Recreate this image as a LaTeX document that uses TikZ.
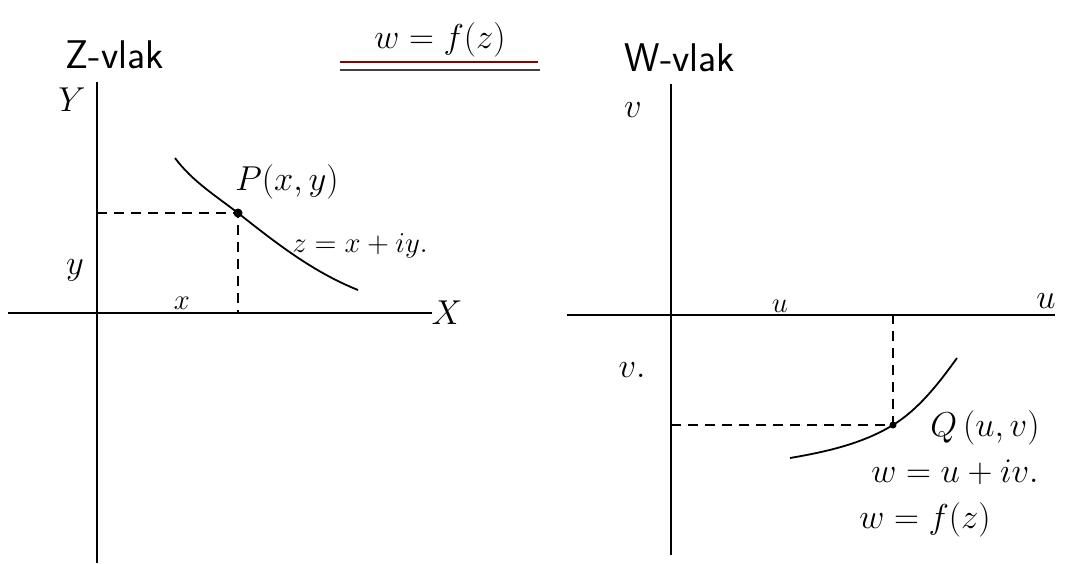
\documentclass[tikz,border=0pt]{standalone}
\usepackage{tikz}
\usetikzlibrary{positioning,calc}
\tikzset{
  axis/.style={line width=1pt},
  guide/.style={line width=0.8pt,dash pattern=on 5pt off 3.5pt},
  curve/.style={line width=0.9pt},
  dot/.style={circle,fill,inner sep=0pt,minimum size=4.5pt},
  lbl/.style={inner sep=1pt,font=\fontsize{16}{18}\selectfont},
  small/.style={inner sep=1pt,font=\fontsize{14}{16}\selectfont},
  plane/.style={inner sep=1pt,font=\sffamily\fontsize{20}{22}\selectfont},
  uline/.style={line width=1.3pt}
}
\begin{document}
\begin{tikzpicture}[x=0.5pt,y=-0.5pt]
    \useasboundingbox (0,0) rectangle (1070,563);
    % titel
    \node[lbl,font=\fontsize{19}{21}\selectfont] (titel) at (440,40) {$w = f(z)$};
    \coordinate (ra) at (340,62); \coordinate (rb) at (538,62);
    \coordinate (ga) at (340,70); \coordinate (gb) at (540,70);
    \draw[uline,red!55!black] (ra) -- (rb);
    \draw[uline,black!75] (ga) -- (gb);

    % Z-vlak
    \node[plane] (zvlak) at (115,55) {Z-vlak};
    \coordinate (zxl) at (8,313); \coordinate (zxr) at (432,313);
    \coordinate (zyt) at (97,82); \coordinate (zyb) at (97,563);
    \draw[axis] (zxl) -- (zxr);
    \draw[axis] (zyt) -- (zyb);
    \node[lbl] (zX) at (447,313) {$X$};
    \node[lbl] (zY) at (72,100) {$Y$};
    \node[lbl] (zy) at (75,270) {$y$};
    \node[small] (zx) at (182,303) {$x$};
    \node[dot] (p) at (238,213) {};
    \coordinate (pa) at (175,158); \coordinate (pb) at (358,290);
    \draw[curve] (pa) .. controls (192,181) and (216,196) .. (p.center)
                      .. controls (276,243) and (313,272) .. (pb);
    \draw[guide] (zyt |- p) -- (p.center) -- (p |- zxl);
    \node[lbl] (plbl) at (287,182) {$P(x,y)$};
    \node[lbl,font=\fontsize{13.5}{16}\selectfont] (zvgl) at (360,246) {$z = x + iy.$};

    % W-vlak
    \node[plane] (wvlak) at (680,58) {W-vlak};
    \coordinate (wxl) at (567,315); \coordinate (wxr) at (1055,315);
    \coordinate (wyt) at (671,84); \coordinate (wyb) at (671,555);
    \draw[axis] (wxl) -- (wxr);
    \draw[axis] (wyt) -- (wyb);
    \node[lbl] (wU) at (1046,301) {$u$};
    \node[lbl] (wV) at (633,110) {$v$};
    \node[small] (wu) at (780,306) {$u$};
    \node[lbl] (wv) at (632,370) {$v.$};
    \node[dot,minimum size=3.5pt] (q) at (893,425) {};
    \coordinate (qa) at (790,458); \coordinate (qb) at (957,358);
    \draw[curve] (qa) .. controls (825,452) and (862,444) .. (q.center)
                      .. controls (919,409) and (939,383) .. (qb);
    \draw[guide] (wyt |- q) -- (q.center) -- (q |- wxl);
    \node[lbl] (qlbl) at (985,428) {$Q\,(u,v)$};
    \node[lbl] (wvgl) at (955,472) {$w = u + iv.$};
    \node[lbl] (wfz) at (925,520) {$w = f(z)$};
\end{tikzpicture}
\end{document}
